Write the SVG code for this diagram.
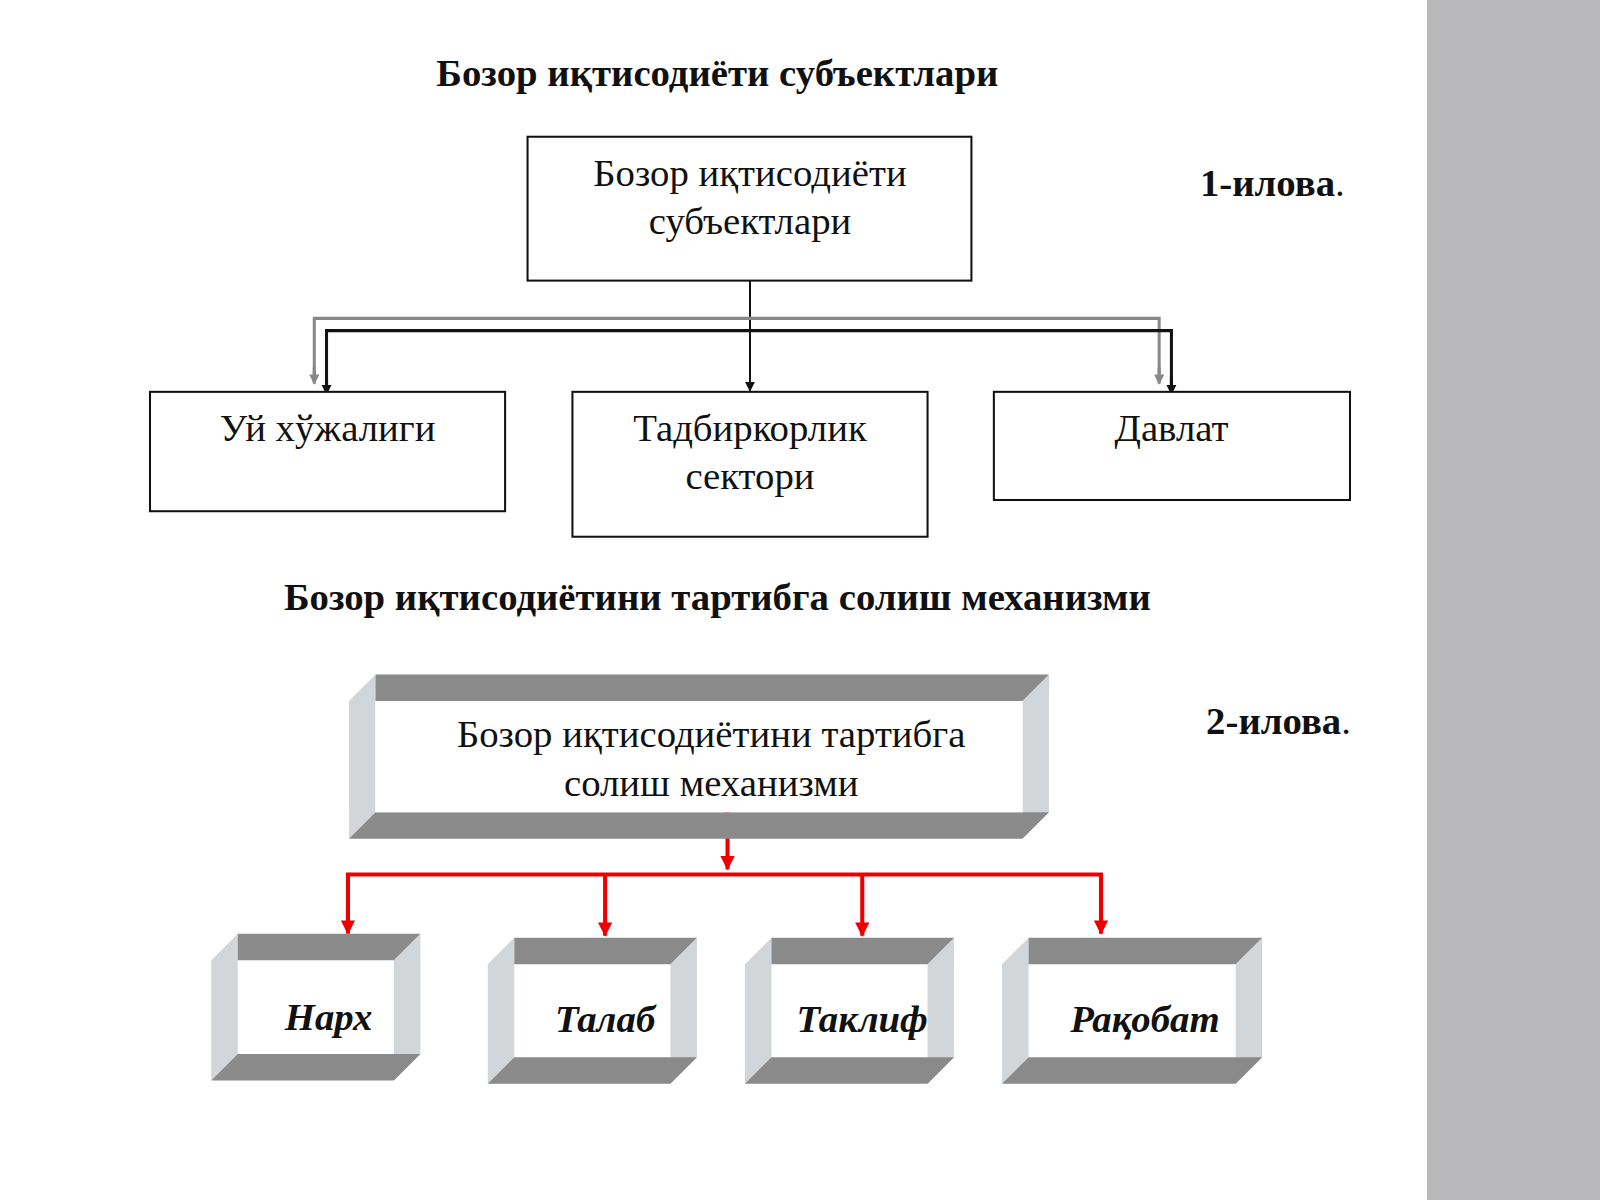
<svg xmlns="http://www.w3.org/2000/svg" width="1600" height="1200" viewBox="0 0 1600 1200">
<defs>
<style>
.t{font-family:"Liberation Serif","Times New Roman",serif;fill:#111}
.h{font-weight:bold;font-size:38px}
.n{font-size:38px}
.i{font-weight:bold;font-style:italic;font-size:38px}
.bx{fill:#fff;stroke:#111;stroke-width:2}
.dk{fill:#8a8a8a}.lt{fill:#d3d6d9}
.red{stroke:#e00;stroke-width:4;fill:none}
</style>
<marker id="ab" markerWidth="10" markerHeight="10" refX="9" refY="5" orient="auto" markerUnits="userSpaceOnUse" viewBox="0 0 10 10"><path d="M0,0L10,5L0,10z" fill="#111"/></marker>
<marker id="ag" markerWidth="10" markerHeight="10" refX="9" refY="5" orient="auto" markerUnits="userSpaceOnUse" viewBox="0 0 10 10"><path d="M0,0L10,5L0,10z" fill="#888"/></marker>
<marker id="ar" markerWidth="14" markerHeight="14" refX="13" refY="7" orient="auto" markerUnits="userSpaceOnUse" viewBox="0 0 14 14"><path d="M0,0L14,7L0,14z" fill="#e00"/></marker>
</defs>
<rect width="1600" height="1200" fill="#fff"/>
<rect x="1427" y="0" width="173" height="1200" fill="#b9b9bb"/>
<g transform="scale(1.0204)">
<text class="t h" x="703" y="84" text-anchor="middle">Бозор иқтисодиёти субъектлари</text>
<text class="t h" x="1176" y="192">1-илова<tspan font-weight="normal">.</tspan></text>
<text class="t h" x="703" y="598" text-anchor="middle">Бозор иқтисодиётини тартибга солиш механизми</text>
<text class="t h" x="1182" y="719">2-илова<tspan font-weight="normal">.</tspan></text>

<g id="connectors">
<path d="M735,275V383" stroke="#111" stroke-width="2" fill="none" marker-end="url(#ab)"/>
<path d="M308,375V312H1136V375" stroke="#888" stroke-width="3" fill="none"/>
<path d="M308,360V376" stroke="#888" stroke-width="3" marker-end="url(#ag)"/>
<path d="M1136,360V376" stroke="#888" stroke-width="3" marker-end="url(#ag)"/>
<path d="M320,384V324H1148V384" stroke="#111" stroke-width="3" fill="none"/>
<path d="M320,370V386" stroke="#111" stroke-width="3" marker-end="url(#ab)"/>
<path d="M1148,370V386" stroke="#111" stroke-width="3" marker-end="url(#ab)"/>
<path class="red" d="M713,796V852" marker-end="url(#ar)"/>
<path class="red" d="M341,913V857H1079V913"/>
<path class="red" d="M341,890V915" marker-end="url(#ar)"/>
<path class="red" d="M593,857V917" marker-end="url(#ar)"/>
<path class="red" d="M845,857V917" marker-end="url(#ar)"/>
<path class="red" d="M1079,890V915" marker-end="url(#ar)"/>
</g>

<g id="top"><rect class="bx" x="517" y="134" width="435" height="141"/>
<text class="t n" x="735" y="182" text-anchor="middle">Бозор иқтисодиёти</text>
<text class="t n" x="735" y="229" text-anchor="middle">субъектлари</text></g>
<g id="uy"><rect class="bx" x="147" y="384" width="348" height="117"/>
<text class="t n" x="321" y="432" text-anchor="middle">Уй хўжалиги</text></g>
<g id="tad"><rect class="bx" x="561" y="384" width="348" height="142"/>
<text class="t n" x="735" y="432" text-anchor="middle">Тадбиркорлик</text>
<text class="t n" x="735" y="479" text-anchor="middle">сектори</text></g>
<g id="dav"><rect class="bx" x="974" y="384" width="349" height="106"/>
<text class="t n" x="1148" y="432" text-anchor="middle">Давлат</text></g>

<g id="mech">
<polygon class="lt" points="342,687 368,661 368,796 342,822"/>
<polygon class="lt" points="1002,687 1028,661 1028,796 1002,822"/>
<polygon class="dk" points="368,661 1028,661 1002,687 368,687"/>
<polygon class="dk" points="342,822 368,796 1028,796 1002,822"/>
<rect x="368" y="687" width="634" height="109" fill="#fff"/>
<text class="t n" x="697" y="732" text-anchor="middle">Бозор иқтисодиётини тартибга</text>
<text class="t n" x="697" y="780" text-anchor="middle">солиш механизми</text>
</g>

<g id="narx">
<polygon class="lt" points="207,941 233,915 233,1033 207,1059"/>
<polygon class="lt" points="386,941 412,915 412,1033 386,1059"/>
<polygon class="dk" points="233,915 412,915 386,941 233,941"/>
<polygon class="dk" points="207,1059 233,1033 412,1033 386,1059"/>
<text class="t i" x="322" y="1009" text-anchor="middle">Нарх</text></g>
<g id="talab">
<polygon class="lt" points="478,945 504,919 504,1036 478,1062"/>
<polygon class="lt" points="657,945 683,919 683,1036 657,1062"/>
<polygon class="dk" points="504,919 683,919 657,945 504,945"/>
<polygon class="dk" points="478,1062 504,1036 683,1036 657,1062"/>
<text class="t i" x="593" y="1011" text-anchor="middle">Талаб</text></g>
<g id="taklif">
<polygon class="lt" points="730,945 756,919 756,1036 730,1062"/>
<polygon class="lt" points="909,945 935,919 935,1036 909,1062"/>
<polygon class="dk" points="756,919 935,919 909,945 756,945"/>
<polygon class="dk" points="730,1062 756,1036 935,1036 909,1062"/>
<text class="t i" x="845" y="1011" text-anchor="middle">Таклиф</text></g>
<g id="raqobat">
<polygon class="lt" points="982,945 1008,919 1008,1036 982,1062"/>
<polygon class="lt" points="1211,945 1237,919 1237,1036 1211,1062"/>
<polygon class="dk" points="1008,919 1237,919 1211,945 1008,945"/>
<polygon class="dk" points="982,1062 1008,1036 1237,1036 1211,1062"/>
<text class="t i" x="1122" y="1011" text-anchor="middle">Рақобат</text></g>
</g>
</svg>
